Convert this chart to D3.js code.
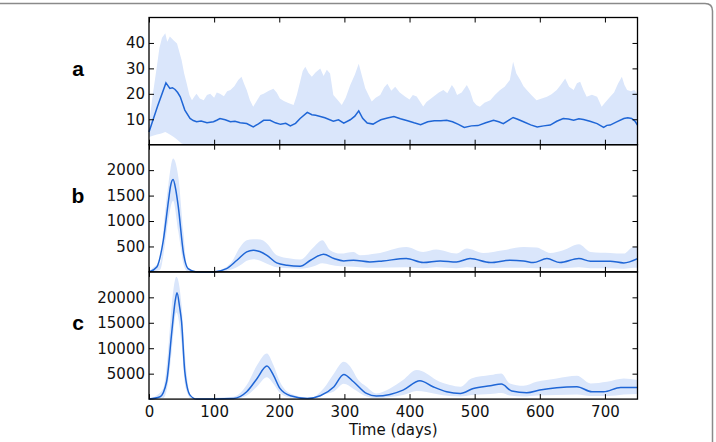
<!DOCTYPE html>
<html>
<head>
<meta charset="utf-8">
<script src="https://cdn.jsdelivr.net/npm/d3@7"></script>
<style>
  body { margin: 0; background: #fff; }
  svg { display: block; }
  .tick text { font-family: "DejaVu Sans", sans-serif; font-size: 15px; fill: #111; }
  .tick line { stroke: #000; stroke-width: 1; }
  .axis-title { font-family: "DejaVu Sans", sans-serif; font-size: 15px; fill: #111; }
  .panel-label { font-family: "Liberation Sans", "Open Sans", sans-serif; font-weight: 700; font-size: 21px; fill: #000; }
</style>
</head>
<body>
<div id="chart"></div>
<script>
// ---- data ----
const xTicks = [0, 100, 200, 300, 400, 500, 600, 700];
const panelLetters = ['a', 'b', 'c'];
const yMax = [50, 2500, 25000];
const yTicksA = [10, 20, 30, 40];
const yTicksB = [500, 1000, 1500, 2000];
const yTicksC = [5000, 10000, 15000, 20000];

// panel a (noisy)
const aMeanDays = [0, 13, 26, 29, 32, 36, 40, 44, 48, 55, 63, 68, 73, 80, 89, 99, 104, 109, 117, 125, 132, 140, 150, 160, 168, 176, 186, 194, 202, 210, 217, 225, 232, 243, 250, 256, 263, 270, 283, 291, 299, 309, 316, 322, 328, 335, 344, 350, 356, 366, 376, 386, 397, 407, 417, 428, 438, 448, 457, 466, 475, 484, 495, 505, 517, 529, 537, 544, 552, 559, 566, 575, 586, 596, 606, 616, 626, 636, 644, 652, 660, 667, 677, 688, 698, 703, 708, 718, 729, 735, 741, 746, 750];
const aMean = [5, 15, 24.3, 23.2, 22.1, 22.4, 21.7, 20.5, 18.8, 13.6, 10.3, 9.5, 9, 9.3, 8.6, 9, 9.6, 10.3, 9.8, 9, 9.2, 8.6, 8.3, 7, 8.2, 9.6, 9.6, 8.6, 8, 8.4, 7.4, 8.4, 10.3, 12.7, 11.8, 11.6, 11.1, 10.6, 9.2, 9.8, 8.5, 9.8, 11.2, 13.3, 10.4, 8.5, 8.1, 9, 9.8, 10.5, 11.1, 10.2, 9.4, 8.6, 7.9, 9, 9.4, 9.4, 9.6, 9, 8, 6.8, 7.4, 7.5, 8.6, 9.6, 9, 8.3, 9.6, 10.7, 10, 9, 7.8, 7, 7.4, 7.7, 9.2, 10.3, 10.1, 9.6, 10.2, 9.9, 9.2, 8.3, 6.8, 7.6, 7.7, 9, 10.3, 10.6, 10.3, 9.3, 7.7];
const aBandDays = [0, 6, 12, 16, 20, 25, 28, 32, 38, 43, 50, 54, 58, 62, 66, 70, 73, 78, 84, 89, 94, 100, 104, 109, 115, 120, 125, 131, 137, 142, 146, 150, 155, 160, 166, 171, 176, 184, 191, 196, 201, 207, 213, 222, 227, 232, 236, 240, 245, 250, 256, 263, 268, 273, 278, 283, 290, 296, 302, 309, 316, 322, 327, 332, 337, 342, 348, 355, 361, 366, 372, 378, 385, 393, 400, 405, 411, 416, 421, 426, 432, 437, 445, 452, 458, 465, 469, 473, 480, 488, 493, 498, 503, 508, 515, 524, 531, 539, 546, 554, 559, 564, 570, 575, 580, 587, 595, 603, 611, 618, 626, 632, 639, 645, 652, 657, 662, 667, 672, 680, 688, 695, 700, 708, 714, 720, 726, 730, 734, 740, 745, 750];
const aLow = [3, 3.5, 4, 4.2, 4.5, 5, 4.6, 4, 3, 2, 0.5, 0.2, 0, 0, 0, 0, 0, 0, 0, 0, 0, 0, 0, 0, 0, 0, 0, 0, 0, 0, 0, 0, 0, 0, 0, 0, 0, 0, 0, 0, 0, 0, 0, 0, 0, 0, 0, 0, 0, 0, 0, 0, 0, 0, 0, 0, 0, 0, 0, 0, 0, 0, 0, 0, 0, 0, 0, 0, 0, 0, 0, 0, 0, 0, 0, 0, 0, 0, 0, 0, 0, 0, 0, 0, 0, 0, 0, 0, 0, 0, 0, 0, 0, 0, 0, 0, 0, 0, 0, 0, 0, 0, 0, 0, 0, 0, 0, 0, 0, 0, 0, 0, 0, 0, 0, 0, 0, 0, 0, 0, 0, 0, 0, 0, 0, 0, 0, 0, 0, 0, 0, 0];
const aHigh = [8, 20, 30.6, 38, 42, 43.8, 40.5, 42.5, 41, 39.8, 33.3, 28, 24, 19.5, 17.5, 19, 20, 18.2, 17.5, 19.5, 20, 18.5, 20.5, 20, 19, 21, 21.5, 23, 25.4, 26.7, 24, 21.5, 17.5, 14.9, 17.5, 19.5, 20, 21.2, 22, 20.5, 18.2, 17.2, 16.5, 15.6, 19.5, 24.7, 29, 30.6, 28.2, 26.7, 28.5, 30, 27, 29.5, 28, 19.5, 17.5, 15.6, 18.5, 23.5, 27.5, 31.8, 27, 22.2, 19.5, 17, 18.5, 19.5, 22.5, 24, 21.2, 22.8, 20.5, 18.9, 17.8, 19.5, 18.9, 17, 15, 16.8, 18, 18.9, 20.5, 21.5, 20.2, 23.5, 22, 19.5, 20.5, 23.5, 21, 17, 15.5, 14.9, 16.5, 17.5, 19.5, 21.5, 22.8, 25.4, 32.6, 28, 25.4, 23, 21.5, 19.5, 17.5, 18.2, 18.8, 19.8, 21.5, 23.5, 26, 22.8, 21.5, 24.2, 24.7, 21.5, 18.8, 19.6, 18.8, 14.9, 16.5, 18.8, 20.5, 24, 26.7, 23.5, 21.5, 21, 21.5, 20];

// panel b
const bMeanDays = [0, 12, 22, 30, 33, 37, 41, 45, 53, 60, 73, 99, 119, 135, 150, 160, 170, 181, 196, 212, 232, 248, 268, 284, 299, 314, 339, 359, 395, 421, 447, 472, 493, 524, 554, 575, 590, 611, 631, 660, 678, 708, 729, 750];
const bMean = [0, 98, 622, 1408, 1680, 1814, 1620, 1277, 360, 65, 0, 0, 65, 229, 393, 426, 400, 327, 177, 131, 111, 229, 347, 262, 216, 229, 196, 216, 262, 183, 216, 196, 262, 183, 229, 216, 183, 262, 183, 262, 210, 210, 177, 262];
const bBandDays = [0, 10, 17, 24, 30, 37, 45, 53, 58, 68, 100, 125, 140, 150, 160, 171, 181, 196, 217, 232, 253, 266, 278, 294, 314, 324, 349, 395, 421, 441, 472, 488, 513, 544, 575, 595, 616, 636, 660, 678, 708, 729, 744, 750];
const bLow = [0, 20, 40, 500, 1050, 1400, 800, 150, 20, 0, 0, 40, 130, 220, 250, 220, 160, 90, 70, 60, 110, 170, 140, 110, 100, 90, 80, 90, 70, 90, 70, 90, 70, 80, 80, 70, 70, 70, 90, 70, 70, 60, 80, 80];
const bHigh = [0, 120, 164, 1100, 1736, 2227, 1867, 753, 131, 0, 10, 164, 491, 622, 640, 635, 557, 327, 262, 242, 491, 622, 426, 360, 393, 327, 360, 491, 393, 439, 360, 458, 373, 426, 491, 478, 373, 426, 544, 393, 373, 360, 491, 491];

// panel c
const cMeanDays = [0, 17, 27, 35, 40, 43, 47, 50, 55, 63, 73, 130, 150, 166, 181, 191, 201, 217, 243, 263, 284, 299, 314, 334, 349, 370, 390, 416, 436, 457, 478, 498, 524, 541, 557, 580, 600, 626, 657, 680, 698, 724, 750];
const cMean = [0, 458, 3406, 13231, 19100, 20895, 18100, 15196, 5371, 786, 0, 131, 1441, 4061, 6485, 4716, 2096, 655, 131, 655, 2424, 4847, 3406, 1113, 590, 917, 1769, 3603, 2424, 1441, 1113, 2096, 2620, 2948, 1572, 1245, 1769, 2227, 2424, 1441, 1441, 2292, 2292];
const cBandDays = [0, 22, 29, 35, 42, 50, 55, 58, 66, 130, 150, 166, 181, 191, 201, 217, 248, 268, 284, 299, 314, 318, 334, 349, 370, 390, 411, 426, 441, 462, 478, 495, 524, 541, 554, 575, 595, 626, 657, 678, 703, 729, 750];
const cLow = [0, 200, 3000, 9500, 17000, 11000, 3000, 1500, 0, 0, 700, 2500, 4300, 3000, 1200, 300, 50, 900, 1500, 3000, 2000, 1700, 500, 200, 400, 800, 1600, 1400, 1000, 600, 500, 800, 1000, 1200, 700, 500, 700, 800, 900, 600, 600, 900, 1000];
const cHigh = [0, 2096, 9000, 18471, 24040, 18471, 9000, 4716, 131, 458, 2751, 6681, 8974, 6681, 3406, 1113, 262, 2096, 5043, 7336, 5371, 4389, 2424, 1113, 2096, 3734, 5699, 5043, 3734, 2751, 2424, 4061, 4716, 5043, 3078, 2620, 3406, 4061, 4585, 3078, 3406, 4061, 3734];

class TimePanel {

  constructor(_config, _data) {
    this.config = {
      parent: _config.parent,
      top: _config.top,
      left: 149,
      width: 488.5,
      height: 127.2,
      yMax: _config.yMax,
      yTicks: _config.yTicks,
      letter: _config.letter,
      showX: _config.showX,
      curve: _config.curve
    };
    this.data = _data;
    this.initVis();
  }

  initVis() {
    let vis = this;
    const c = vis.config;

    vis.xScale = d3.scaleLinear().domain([0, 750]).range([0, c.width]);
    vis.yScale = d3.scaleLinear().domain([0, c.yMax]).range([c.height, 0]);

    vis.chart = c.parent.append('g')
      .attr('transform', `translate(${c.left},${c.top})`);

    vis.renderVis();
  }

  renderVis() {
    let vis = this;
    const c = vis.config;
    const d = vis.data;

    const band = d.bandDays.map((day, i) => ({ day, lo: d.low[i], hi: d.high[i] }));
    const mean = d.meanDays.map((day, i) => ({ day, v: d.mean[i] }));

    // shaded spread
    vis.chart.append('path')
      .datum(band)
      .attr('fill', '#dae6fb')
      .attr('d', d3.area()
        .curve(c.curve)
        .x(p => vis.xScale(p.day))
        .y0(p => vis.yScale(p.lo))
        .y1(p => vis.yScale(p.hi)));

    // mean line
    vis.chart.append('path')
      .datum(mean)
      .attr('fill', 'none')
      .attr('stroke', '#1f66d6')
      .attr('stroke-width', 1.5)
      .attr('d', d3.line()
        .curve(c.curve)
        .x(p => vis.xScale(p.day))
        .y(p => vis.yScale(p.v)));

    // inward ticks on all four sides
    const noLabel = () => '';
    vis.chart.append('g')
      .attr('transform', `translate(0,${c.height})`)
      .call(d3.axisBottom(vis.xScale).tickValues(xTicks).tickSize(-5).tickPadding(7)
        .tickFormat(c.showX ? d3.format('d') : noLabel));
    vis.chart.append('g')
      .call(d3.axisTop(vis.xScale).tickValues(xTicks).tickSize(-5).tickFormat(noLabel));
    vis.chart.append('g')
      .call(d3.axisLeft(vis.yScale).tickValues(c.yTicks).tickSize(-5).tickPadding(4)
        .tickFormat(d3.format('d')));
    vis.chart.append('g')
      .attr('transform', `translate(${c.width},0)`)
      .call(d3.axisRight(vis.yScale).tickValues(c.yTicks).tickSize(-5).tickFormat(noLabel));
    vis.chart.selectAll('.domain').remove();

    // panel frame
    vis.chart.append('rect')
      .attr('width', c.width)
      .attr('height', c.height)
      .attr('fill', 'none')
      .attr('stroke', '#000')
      .attr('stroke-width', 1.3);

    // panel letter
    vis.chart.append('text')
      .attr('class', 'panel-label')
      .attr('x', -71)
      .attr('y', c.height / 2 - 5)
      .attr('text-anchor', 'middle')
      .text(c.letter);

    if (c.showX) {
      vis.chart.append('text')
        .attr('class', 'axis-title')
        .attr('x', c.width / 2)
        .attr('y', c.height + 36)
        .attr('text-anchor', 'middle')
        .text('Time (days)');
    }
  }
}

const W = 716, H = 442;
const svg = d3.select('#chart').append('svg')
  .attr('width', W)
  .attr('height', H);

// outer figure frame (top and right edge, rounded corner)
svg.append('path')
  .attr('d', `M0,3.5 H705 Q712.5,3.5 712.5,11 V${H}`)
  .attr('fill', 'none')
  .attr('stroke', '#8a8a8a')
  .attr('stroke-width', 1.5);

const panels = [
  { meanDays: aMeanDays, mean: aMean, bandDays: aBandDays, low: aLow, high: aHigh, yTicks: yTicksA, curve: d3.curveLinear },
  { meanDays: bMeanDays, mean: bMean, bandDays: bBandDays, low: bLow, high: bHigh, yTicks: yTicksB, curve: d3.curveMonotoneX },
  { meanDays: cMeanDays, mean: cMean, bandDays: cBandDays, low: cLow, high: cHigh, yTicks: yTicksC, curve: d3.curveMonotoneX }
];

panels.forEach((p, i) => {
  new TimePanel({
    parent: svg,
    top: 17.5 + i * 127.2,
    yMax: yMax[i],
    yTicks: p.yTicks,
    letter: panelLetters[i],
    showX: i === 2,
    curve: p.curve
  }, p);
});
</script>
</body>
</html>
